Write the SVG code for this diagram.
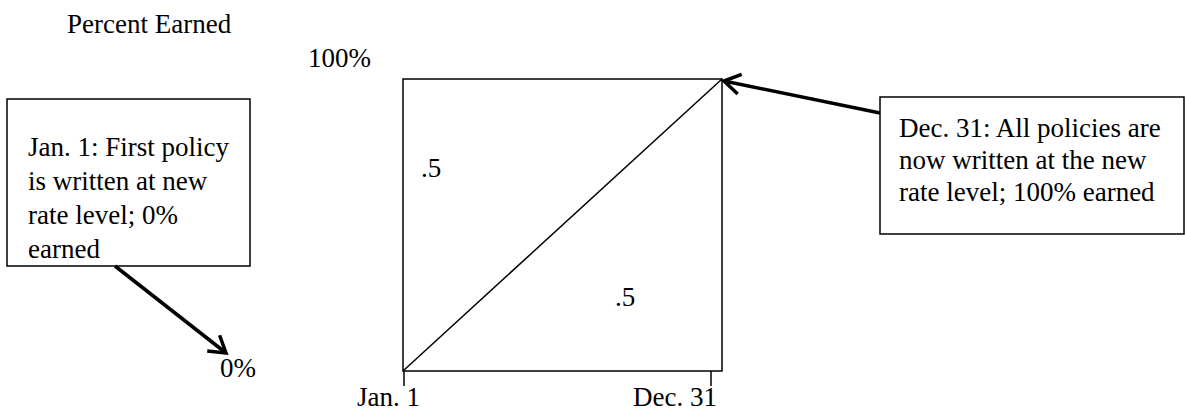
<svg xmlns="http://www.w3.org/2000/svg" width="1185" height="411" viewBox="0 0 1185 411">
<style>
text{font-family:"Liberation Serif","Times New Roman",Tinos,"DejaVu Serif",serif;font-size:27px;fill:#000}
.box{fill:#fff;stroke:#000;stroke-width:1.5}
.thin{stroke:#000;stroke-width:1.5;fill:none}
.conn{stroke:#000;stroke-width:3.5;fill:none}
</style>
<defs>
<marker id="arr" markerUnits="userSpaceOnUse" markerWidth="24" markerHeight="24" refX="20" refY="12" orient="auto" viewBox="0 0 24 24">
<path d="M4,2 L20,12 L4,22" fill="none" stroke="#000" stroke-width="3.5" stroke-linejoin="miter"/>
</marker>
</defs>
<g font-family="Liberation Serif, Times New Roman, serif">
<g id="axis-title"><text x="67" y="33">Percent Earned</text></g>
<g id="label-100"><text x="308" y="67">100%</text></g>
<g id="chart">
<rect class="thin" x="403" y="79" width="319" height="292"/>
<line class="thin" x1="403" y1="371" x2="722" y2="79"/>
<line class="thin" x1="404" y1="371" x2="404" y2="386"/>
<line class="thin" x1="711" y1="371" x2="711" y2="386"/>
<text x="421" y="177">.5</text>
<text x="615" y="306">.5</text>
<text x="357" y="406">Jan. 1</text>
<text x="633" y="406">Dec. 31</text>
</g>
<g id="label-0"><text x="220" y="377">0%</text></g>
<g id="box-jan">
<rect class="box" x="7" y="99" width="243" height="167"/>
<text x="28" y="156">Jan. 1: First policy</text>
<text x="28" y="190">is written at new</text>
<text x="28" y="224">rate level; 0%</text>
<text x="28" y="258">earned</text>
</g>
<g id="box-dec">
<rect class="box" x="880" y="97" width="304" height="137"/>
<text x="899" y="137">Dec. 31: All policies are</text>
<text x="899" y="169">now written at the new</text>
<text x="899" y="201">rate level; 100% earned</text>
</g>
</g>
<g id="connectors">
<line class="conn" x1="115" y1="266" x2="226" y2="353" marker-end="url(#arr)"/>
<line class="conn" x1="880" y1="113" x2="724" y2="81" marker-end="url(#arr)"/>
</g>
</svg>
